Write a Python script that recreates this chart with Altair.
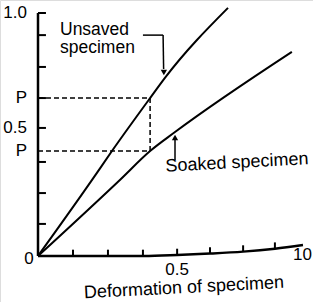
import altair as alt
import pandas as pd

# ---- data ----
unsaved_x = [0, 0.204, 0.279, 0.423, 0.479, 0.717]
unsaved_y = [0, 0.313, 0.432, 0.650, 0.733, 1.021]
soaked_x = [0, 0.309, 0.423, 0.517, 0.958]
soaked_y = [0, 0.313, 0.432, 0.510, 0.840]

xaxis_x = [0, 0.4, 0.525, 0.649, 0.774, 0.894, 1.0]
xaxis_y = [0, 0, 0.004, 0.010, 0.018, 0.030, 0.045]

xtick_pos = [0.132, 0.264, 0.396, 0.525, 0.649, 0.774, 0.894]
xtick_base = [0, 0, 0, 0.004, 0.010, 0.018, 0.030]
ytick_pos = [0.132, 0.259, 0.387, 0.527, 0.650, 0.778, 0.909, 1.0]

ylab_pos = [1.0, 0.650, 0.527, 0.432]
ylab_text = ["1.0", "P", "0.5", "P"]

p_x = 0.423
p_hi = 0.650
p_lo = 0.432

FONT = "Liberation Sans"
xs = alt.Scale(domain=[0, 1], range=[38, 303], clamp=False)
ys = alt.Scale(domain=[0, 1], range=[256, 13], clamp=False)
X = lambda f: alt.X(f, type="quantitative", scale=xs, axis=None)
Y = lambda f: alt.Y(f, type="quantitative", scale=ys, axis=None)


def curve(xv, yv, sw=2, interp="monotone"):
    df = pd.DataFrame({"x": xv, "y": yv, "o": range(len(xv))})
    return alt.Chart(df).mark_line(color="black", strokeWidth=sw, interpolate=interp).encode(
        x=X("x"), y=Y("y"), order="o:Q")


layers = []
layers.append(curve(unsaved_x, unsaved_y))
layers.append(curve(soaked_x, soaked_y))
layers.append(curve(xaxis_x, xaxis_y, 2.5))

# y axis line
layers.append(alt.Chart(pd.DataFrame({"x": [0], "y": [0], "y2": [1.0]})).mark_rule(
    color="black", strokeWidth=2.5).encode(x=X("x"), y=Y("y"), y2="y2"))

# y ticks (inside)
layers.append(alt.Chart(pd.DataFrame({"y": ytick_pos, "x": [0] * len(ytick_pos), "x2": [0.03] * len(ytick_pos)})).mark_rule(
    color="black", strokeWidth=2).encode(x=X("x"), x2="x2", y=Y("y")))

# x ticks (inside)
xt = pd.DataFrame({"x": xtick_pos, "y": xtick_base, "y2": [b + 0.026 for b in xtick_base]})
layers.append(alt.Chart(xt).mark_rule(color="black", strokeWidth=2).encode(x=X("x"), y=Y("y"), y2="y2"))

# dashed guides
dash = pd.DataFrame({"x": [0, 0, p_x], "x2": [p_x, p_x, p_x], "y": [p_hi, p_lo, p_lo], "y2": [p_hi, p_lo, p_hi]})
layers.append(alt.Chart(dash).mark_rule(color="black", strokeWidth=1.5, strokeDash=[5, 3]).encode(
    x=X("x"), x2="x2", y=Y("y"), y2="y2"))

# leader lines
lead = pd.DataFrame({"x": [0.396, 0.472, 0.517], "x2": [0.472, 0.474, 0.517],
                     "y": [0.909, 0.909, 0.395], "y2": [0.909, 0.77, 0.49]})
layers.append(alt.Chart(lead).mark_rule(color="black", strokeWidth=1.5).encode(
    x=X("x"), x2="x2", y=Y("y"), y2="y2"))

# arrow heads
heads = pd.DataFrame({"x": [0.475, 0.517], "y": [0.755, 0.488], "s": ["triangle-down", "triangle-up"]})
layers.append(alt.Chart(heads).mark_point(filled=True, color="black", size=40, opacity=1).encode(
    x=X("x"), y=Y("y"), shape=alt.Shape("s:N", scale=None, legend=None)))

# y labels
yl = pd.DataFrame({"x": [0] * len(ylab_pos), "y": ylab_pos, "t": ylab_text})
layers.append(alt.Chart(yl).mark_text(align="right", baseline="middle", dx=-11, fontSize=17, font=FONT, color="black").encode(
    x=X("x"), y=Y("y"), text="t:N"))

# x labels
xl = pd.DataFrame({"x": [-0.034, 0.525, 0.998], "y": [-0.012, -0.058, 0.005], "t": ["0", "0.5", "10"]})
layers.append(alt.Chart(xl).mark_text(align="center", baseline="middle", fontSize=17, font=FONT, color="black").encode(
    x=X("x"), y=Y("y"), text="t:N"))

# annotations
ann = pd.DataFrame({"x": [0.083, 0.083], "y": [0.909, 0.835], "t": ["Unsaved", "specimen"]})
layers.append(alt.Chart(ann).mark_text(align="left", baseline="alphabetic", fontSize=17.5, font=FONT, color="black").encode(
    x=X("x"), y=Y("y"), text="t:N"))

ann2 = pd.DataFrame({"x": [0.751, 0.551], "y": [0.383, -0.132], "t": ["Soaked specimen", "Deformation of specimen"]})
layers.append(alt.Chart(ann2).mark_text(align="center", baseline="middle", fontSize=18, font=FONT, color="black", angle=357).encode(
    x=X("x"), y=Y("y"), text="t:N"))

chart = alt.layer(*layers).properties(
    width=313, height=302, padding=0, autosize=alt.AutoSizeParams(type="none")
).configure_view(stroke=None).configure(background="white")

chart.save("out.html", embed_options={"renderer": "svg", "actions": False})
